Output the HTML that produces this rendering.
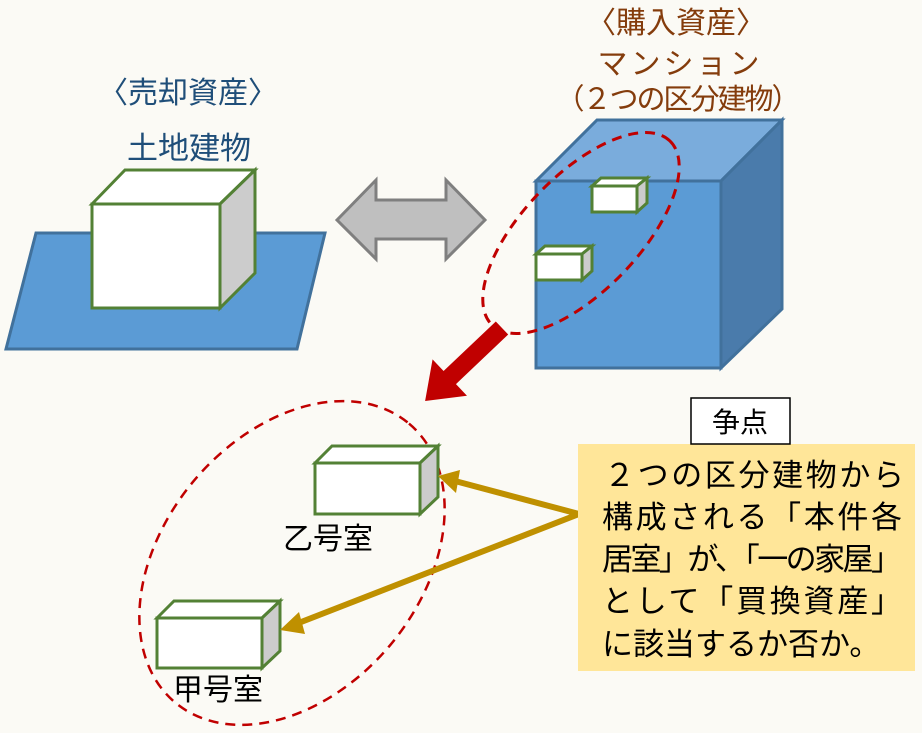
<!DOCTYPE html>
<html><head><meta charset="utf-8"><style>
html,body{margin:0;padding:0;background:#fbfaf5;overflow:hidden;width:922px;height:733px;}
svg{display:block;}
text{font-family:"Liberation Sans","Noto Sans CJK JP",sans-serif;}
</style></head><body>
<svg width="922" height="733" viewBox="0 0 922 733" xmlns="http://www.w3.org/2000/svg">
<rect width="922" height="733" fill="#fbfaf5"/>
<text x="188" y="103" font-size="30" fill="#1f4e79" text-anchor="middle">〈売却資産〉</text>
<text x="189" y="159" font-size="31" fill="#1f4e79" text-anchor="middle">土地建物</text>
<text x="676" y="33" font-size="30" fill="#843c0c" text-anchor="middle">〈購入資産〉</text>
<text x="680" y="74" font-size="30" fill="#843c0c" text-anchor="middle" letter-spacing="3">マンション</text>
<text x="678" y="109" font-size="29" fill="#843c0c" text-anchor="middle" textLength="245">（２つの区分建物）</text>
<polygon points="36,233 325,233 297,349 6,349" fill="#5b9bd5" stroke="#41719c" stroke-width="3"/>
<polygon points="92,204 125,170 255,170 220,204" fill="#fff" stroke="#538135" stroke-width="3"/>
<polygon points="220,204 255,170 255,273 220,308" fill="#ccc" stroke="#538135" stroke-width="3"/>
<rect x="92" y="204" width="128" height="104" fill="#fff" stroke="#538135" stroke-width="3"/>
<polygon points="337,220 376,180 376,200 446,200 446,180 485,220 446,259 446,239 376,239 376,259" fill="#bfbfbf" stroke="#7f7f7f" stroke-width="3"/>
<polygon points="536,181 597,120 782,120 721,181" fill="#7aacdc" stroke="#41719c" stroke-width="3"/>
<polygon points="721,181 782,120 782,309 721,368" fill="#4a7bab" stroke="#41719c" stroke-width="3"/>
<rect x="536" y="181" width="185" height="187" fill="#5b9bd5" stroke="#41719c" stroke-width="3"/>
<g stroke="#538135" stroke-width="3">
<polygon points="592,186 601,178 647,178 637,186" fill="#fff"/>
<polygon points="637,186 647,178 647,203 637,212" fill="#ccc"/>
<rect x="592" y="186" width="45" height="26" fill="#fff"/>
<polygon points="536,254 545,246 592,246 582,254" fill="#fff"/>
<polygon points="582,254 592,246 592,271 582,280" fill="#ccc"/>
<rect x="536" y="254" width="46" height="26" fill="#fff"/>
</g>
<ellipse cx="581" cy="233" rx="128" ry="58" transform="rotate(-46 581 233)" fill="none" stroke="#c00000" stroke-width="3" stroke-dasharray="10 7"/>
<g transform="translate(502,328) rotate(136.5)">
<polygon points="0,-9 72,-9 72,-25 106,0 72,25 72,9 0,9" fill="#c00000"/>
</g>
<ellipse cx="292" cy="563" rx="182" ry="128" transform="rotate(-50 292 563)" fill="none" stroke="#c00000" stroke-width="2.5" stroke-dasharray="10 7"/>
<g stroke="#538135" stroke-width="3">
<polygon points="315,463 332,446 438,446 420,463" fill="#fff"/>
<polygon points="420,463 438,446 438,497 420,514" fill="#ccc"/>
<rect x="315" y="463" width="105" height="51" fill="#fff"/>
<polygon points="157,618 174,601 280,601 262,618" fill="#fff"/>
<polygon points="262,618 280,601 280,651 262,668" fill="#ccc"/>
<rect x="157" y="618" width="105" height="50" fill="#fff"/>
</g>
<text x="328" y="549" font-size="30" fill="#000" text-anchor="middle">乙号室</text>
<text x="218" y="700" font-size="30" fill="#000" text-anchor="middle">甲号室</text>
<g stroke="#bf9000" stroke-width="6" fill="none">
<line x1="579" y1="514" x2="455" y2="481"/>
<line x1="579" y1="514" x2="296" y2="624"/>
</g>
<polygon points="438,476 460,470 456,493" fill="#bf9000"/>
<polygon points="280,630 299,612 305,634" fill="#bf9000"/>
<rect x="578" y="444" width="337" height="227" fill="#ffe699"/>
<rect x="691" y="398" width="99" height="46" fill="#fff" stroke="#000" stroke-width="1.5"/>
<text x="740" y="432" font-size="28" fill="#000" text-anchor="middle">争点</text>
<g font-size="31" fill="#000">
<text x="604" y="486" textLength="300">２つの区分建物から</text>
<text x="602" y="528" textLength="300">構成される「本件各</text>
<text x="602" y="570" textLength="300">居室」が､「一の家屋」</text>
<text x="602" y="612" textLength="300">として「買換資産」</text>
<text x="602" y="655">に該当するか否か。</text>
</g>
</svg>
</body></html>
